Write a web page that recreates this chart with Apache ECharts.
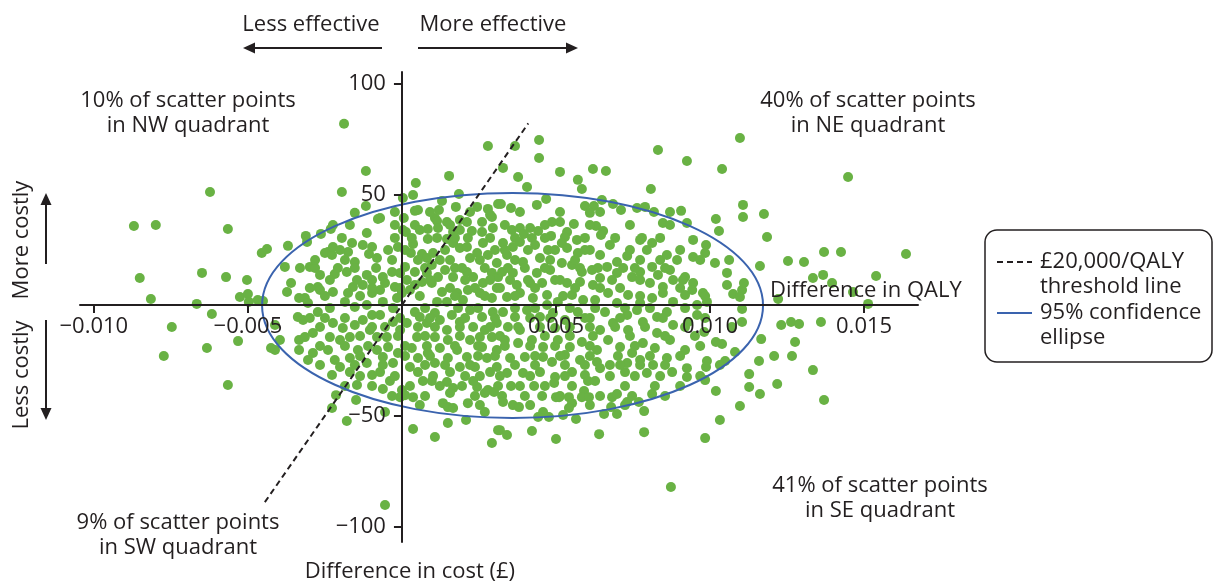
<!DOCTYPE html>
<html><head><meta charset="utf-8">
<script src="https://cdn.jsdelivr.net/npm/echarts@6/dist/echarts.min.js"></script>
<style>html,body{margin:0;padding:0;background:#fff}#chart{width:1216px;height:586px}</style>
</head><body><div id="chart"></div>
<script>
// ---------- data ----------
const xTickValues = [-0.010, -0.005, 0.005, 0.010, 0.015];
const xTickLabels = ['\u22120.010', '\u22120.005', '0.005', '0.010', '0.015'];
const yTickValues = [-100, -50, 50, 100];
const yTickLabels = ['\u2212100', '\u221250', '50', '100'];
const xRange = [-0.01045, 0.01675];
const yRange = [-107, 105.2];
const xAxisName = 'Difference in QALY';
const yAxisName = 'Difference in cost (\u00a3)';
const thresholdName = '\u00a320,000/QALY\nthreshold line';
const ellipseName = '95% confidence\nellipse';
// threshold line: cost = 20,000 x QALY, end points
const thresholdLine = [[-0.00445, -89], [0.0041, 82]];
// ellipse: centre QALY, centre cost, semi-axis QALY, semi-axis cost
const confidenceEllipse = [[0.00359, -0.2, 0.00813, 50.8]];
const quadrantNotes = ['10% of scatter points\nin NW quadrant', '40% of scatter points\nin NE quadrant',
  '41% of scatter points\nin SE quadrant', '9% of scatter points\nin SW quadrant'];
const effectLabels = ['Less effective', 'More effective'];
const costLabels = ['More costly', 'Less costly'];
// bootstrap scatter points [QALY difference, cost difference] - distinct points
const scatterPoints = [
[-0.00623,51.0],[-0.00870,35.7],[-0.00799,36.1],[-0.00565,34.3],
[-0.00188,81.8],[0.00279,71.8],[-0.00117,60.5],[0.00153,58.3],[0.00045,55.1],[-0.00195,51.0],[0.00003,48.3],[0.00036,49.7],[0.00185,50.1],[0.00130,47.0],[0.00175,44.3],[0.00244,44.3],[0.00279,43.4],[0.00312,45.6],[-0.00153,41.6],[-0.00117,44.7],[-0.00071,39.3],[-0.00078,38.8],[-0.00023,42.0],[0.00042,42.5],[0.00052,42.9],[0.00006,39.3],[0.00120,42.9],[0.00107,39.3],[0.00114,37.9],[0.00146,37.5],[0.00188,38.4],[0.00211,37.5],[0.00260,37.5],[0.00286,40.7],[0.00292,39.7],[0.00295,34.8],[0.00042,36.1],[0.00058,33.9],[0.00084,34.3],[0.00117,34.8],[0.00166,33.0],[0.00188,33.9],[0.00227,33.4],[0.00260,33.0],[-0.00224,36.1],[-0.00231,34.3],[-0.00263,32.1],[-0.00312,31.2],[-0.00114,32.5],[0.00003,33.9],[0.00013,33.0],[-0.00195,30.3],[0.00084,29.8],[0.00146,29.8],[0.00214,30.3],
[0.00367,71.8],[0.00445,74.5],[0.00445,66.4],[0.00328,61.9],[0.00377,57.8],[0.00513,60.1],[0.00620,61.4],[0.00662,60.5],[0.00831,70.0],[0.00925,65.0],[0.00406,53.3],[0.00571,56.5],[0.00584,52.4],[0.00808,52.4],[0.00468,47.9],[0.00438,45.2],[0.00354,43.8],[0.00321,45.6],[0.00649,47.4],[0.00685,45.6],[0.00594,44.7],[0.00623,44.7],[0.00610,41.6],[0.00711,42.9],[0.00763,43.8],[0.00789,44.3],[0.00818,42.0],[0.00906,42.5],[0.00847,37.0],[0.00925,37.0],[0.00487,37.5],[0.00513,37.5],[0.00558,36.6],[0.00630,35.7],[0.00653,33.4],[0.00646,31.6],[0.00536,33.0],[0.00529,30.7],[0.00484,31.2],[0.00568,29.4],[0.00357,33.9],[0.00383,34.8],[0.00416,34.8],[0.00442,33.4],[0.00396,32.1],[0.00367,30.3],[0.00422,30.3],[0.00779,30.3],[0.00945,29.4],
[0.01097,75.4],[0.01039,61.4],[0.01448,57.8],[0.01107,45.2],[0.01107,39.7],[0.01175,41.1],[0.01019,38.8],[0.01029,33.4],[0.01185,30.7],
[-0.00851,12.2],[-0.00815,2.7],[-0.00649,14.5],[-0.00571,12.6],[-0.00503,11.3],[-0.00666,0.5],[-0.00617,-4.1],[-0.00747,-9.9],[-0.00633,-19.4],[-0.00773,-23.0],[-0.00532,-16.3],[-0.00526,3.6],[-0.00500,5.0],[-0.00497,1.4],[-0.00468,2.3],[-0.00451,1.8],[-0.00455,23.5],[-0.00438,25.3],[-0.00370,26.7],[-0.00380,17.2],[-0.00360,9.9],[-0.00373,5.9],[-0.00334,3.2],[-0.00338,-5.4],[-0.00412,-9.0],[-0.00396,-15.8],[-0.00425,-19.4],[-0.00412,-20.3],[-0.00334,-15.8],[-0.00334,-20.3],
[-0.00308,28.5],[-0.00240,23.9],[-0.00250,23.5],[-0.00227,22.6],[-0.00224,26.2],[-0.00162,28.0],[-0.00175,23.9],[-0.00153,19.4],[-0.00127,27.1],[-0.00097,26.2],[-0.00107,23.0],[-0.00081,21.2],[-0.00013,26.2],[0.00036,27.6],[0.00029,23.5],[0.00065,23.0],[0.00081,21.2],[0.00101,23.5],[0.00123,20.3],[0.00097,18.1],[0.00166,28.0],[0.00188,25.7],[0.00211,26.2],[0.00221,21.2],[0.00244,23.5],[0.00263,28.0],[0.00279,22.6],[0.00302,24.8],[0.00308,19.0],
[-0.00299,17.2],[-0.00282,16.7],[-0.00266,13.6],[-0.00218,14.0],[-0.00179,14.9],[-0.00153,16.7],[-0.00114,13.6],[-0.00097,11.3],[-0.00062,12.6],[-0.00032,14.9],[-0.00006,14.5],[0.00010,17.2],[0.00042,14.9],[0.00081,14.5],[0.00117,12.6],[0.00140,15.8],[0.00172,16.7],[0.00166,12.6],[0.00211,14.9],[0.00231,12.6],[0.00269,16.7],[0.00292,14.5],[0.00312,12.6],
[-0.00315,3.2],[-0.00273,8.1],[-0.00266,6.8],[-0.00224,5.9],[-0.00185,1.4],[-0.00175,5.4],[-0.00159,8.1],[-0.00127,9.0],[-0.00097,5.4],[-0.00071,6.8],[-0.00055,9.9],[-0.00023,8.1],[-0.00006,7.7],[0.00000,5.4],[-0.00016,3.2],[0.00026,6.8],[0.00042,9.0],[0.00065,10.4],[0.00097,9.9],[0.00130,5.9],[0.00146,1.4],[0.00114,1.4],[0.00179,5.4],[0.00198,2.3],[0.00214,6.8],[0.00253,5.4],[0.00263,9.9],[0.00292,3.2],[0.00308,7.7],[-0.00305,0.9],[-0.00153,-0.9],[-0.00114,0],[-0.00062,1.4],
[-0.00273,-3.2],[-0.00250,-5.9],[-0.00224,-8.1],[-0.00192,-10.4],[-0.00153,-9.0],[-0.00127,-6.8],[-0.00097,-4.5],[-0.00071,-4.5],[-0.00055,-9.9],[-0.00029,-7.7],[-0.00006,-11.3],[0.00016,-8.1],[0.00042,-3.2],[0.00058,-5.4],[0.00081,-8.1],[0.00107,-3.6],[0.00123,-6.8],[0.00146,-11.3],[0.00162,-4.5],[0.00188,-7.7],[0.00221,-2.3],[0.00231,-9.9],[0.00260,-5.4],[0.00269,-11.3],[0.00295,-3.2],[0.00308,-8.1],[-0.00321,-6.8],[-0.00315,-14.5],[-0.00289,-12.6],[-0.00234,-14.5],[-0.00201,-15.8],[-0.00169,-14.5],[-0.00104,-11.3],[-0.00081,-14.5],
[-0.00289,-21.7],[-0.00305,-24.8],[-0.00240,-20.3],[-0.00218,-24.8],[-0.00169,-23.9],[-0.00201,-28.0],[-0.00143,-20.3],[-0.00114,-26.2],[-0.00081,-20.3],[-0.00062,-23.5],[-0.00045,-19.0],[-0.00029,-26.2],[-0.00013,-21.7],[-0.00071,-30.3],[-0.00097,-31.6],[-0.00169,-30.3],[-0.00227,-31.6],[0.00032,-19.4],[0.00052,-23.9],[0.00026,-28.0],[0.00052,-30.3],[0.00084,-21.7],[0.00107,-26.2],[0.00123,-19.4],[0.00149,-23.9],[0.00156,-30.3],[0.00188,-28.0],[0.00179,-20.3],[0.00211,-23.5],[0.00221,-15.8],[0.00237,-28.0],[0.00260,-19.0],[0.00276,-23.9],[0.00286,-30.3],[0.00308,-20.3],[0.00308,-28.0],[-0.00049,-14.5],[0.00049,-14.5],[0.00107,-14.5],[0.00149,-15.8],[0.00253,-14.5],[0.00292,-14.5],
[0.00328,28.0],[0.00360,26.2],[0.00383,28.5],[0.00432,27.1],[0.00474,24.8],[0.00519,28.0],[0.00536,25.7],[0.00571,23.5],[0.00610,24.8],[0.00643,22.6],[0.00675,27.1],[0.00698,19.4],[0.00731,22.1],[0.00773,29.4],[0.00795,24.8],[0.00812,28.0],[0.00838,20.3],[0.00860,22.6],[0.00893,20.3],[0.00945,21.7],[0.00341,22.6],[0.00393,19.4],[0.00448,21.2],
[0.00325,14.9],[0.00360,14.5],[0.00399,16.7],[0.00438,14.5],[0.00481,15.8],[0.00519,19.0],[0.00552,18.1],[0.00584,14.9],[0.00617,15.8],[0.00643,12.2],[0.00666,17.2],[0.00698,14.5],[0.00718,16.7],[0.00747,12.6],[0.00773,14.9],[0.00812,17.2],[0.00831,13.6],[0.00870,15.8],[0.00880,11.3],[0.00919,12.6],[0.00945,9.9],[0.00373,9.0],[0.00416,9.9],[0.00455,9.9],[0.00497,11.3],[0.00536,9.9],[0.00578,10.4],[0.00620,9.0],[0.00805,9.9],[0.00847,8.1],
[0.00341,3.6],[0.00383,5.4],[0.00425,3.2],[0.00471,4.5],[0.00506,1.4],[0.00552,4.5],[0.00588,2.3],[0.00627,2.3],[0.00669,5.4],[0.00698,0.9],[0.00734,4.5],[0.00773,0.9],[0.00812,3.2],[0.00847,5.4],[0.00880,1.4],[0.00919,4.5],[0.00942,6.8],[0.00958,0],[0.00471,0],
[0.00328,-3.2],[0.00367,-5.4],[0.00406,-2.3],[0.00448,-5.4],[0.00490,-3.6],[0.00529,-6.8],[0.00571,-3.2],[0.00610,-5.9],[0.00659,-3.2],[0.00685,-8.1],[0.00731,-4.5],[0.00763,-2.3],[0.00782,-7.7],[0.00828,-5.4],[0.00860,-3.2],[0.00880,-9.0],[0.00929,-7.7],[0.00958,-4.5],[0.00344,-9.9],[0.00383,-11.3],[0.00497,-10.4],[0.00643,-11.3],[0.00734,-11.3],[0.00828,-12.6],
[0.00334,-15.8],[0.00377,-17.2],[0.00422,-15.8],[0.00458,-19.0],[0.00506,-15.8],[0.00545,-19.0],[0.00584,-16.7],[0.00633,-20.3],[0.00669,-15.8],[0.00708,-19.0],[0.00747,-21.7],[0.00782,-17.2],[0.00821,-19.4],[0.00870,-15.8],[0.00919,-20.3],[0.00351,-23.9],[0.00399,-23.5],[0.00458,-23.5],[0.00487,-25.7],[0.00529,-22.6],[0.00578,-24.8],[0.00633,-25.7],[0.00675,-27.1],[0.00731,-26.2],[0.00773,-24.8],[0.00815,-27.1],[0.00860,-23.9],[0.00925,-28.5],[0.00341,-30.7],[0.00393,-30.7],[0.00448,-30.3],[0.00497,-32.5],[0.00552,-30.3],[0.00594,-31.6],[0.00643,-28.5],[0.00724,-30.3],[0.00795,-30.7],[0.00877,-30.3],[0.00925,-32.5],
[0.00987,27.1],[0.00984,23.5],[0.01016,19.0],[0.01062,20.3],[0.01055,14.5],[0.01162,17.6],[0.01253,19.9],[0.01305,19.4],[0.01370,23.9],[0.01425,23.9],[0.01636,23.0],[0.01334,12.2],[0.01367,13.6],[0.01396,9.9],[0.01464,5.9],[0.01539,13.1],[0.01513,0.5],[0.01055,9.0],[0.01110,9.9],[0.01104,6.8],[0.01075,5.0],[0.01097,3.6],[0.00977,5.4],[0.00990,1.4],[0.01221,2.7],[0.01104,-1.8],[0.01104,-7.7],[0.01231,-9.0],[0.01263,-7.7],[0.01289,-8.6],[0.01360,-7.7],[0.01071,-9.9],[0.00981,-12.2],[0.01019,-16.7],[0.01039,-17.6],[0.01166,-15.4],[0.01276,-16.7],[0.01081,-21.2],[0.00990,-25.3],[0.01049,-25.3],[0.01032,-27.1],[0.01159,-25.3],[0.01208,-23.0],[0.01266,-23.0],[0.01334,-29.4],[0.01127,-31.2],[0.00987,-28.0],
[-0.00565,-36.1],
[-0.00146,-36.1],[-0.00214,-40.7],[-0.00149,-42.9],[-0.00227,-46.5],[-0.00179,-52.4],[-0.00062,-37.9],[-0.00039,-34.3],[-0.00055,-48.3],[0.00000,-38.4],[-0.00006,-41.6],[0.00010,-40.7],[0.00036,-41.6],[0.00036,-56.0],[0.00107,-59.6],[-0.00055,-90.3],[0.00146,-34.8],[0.00166,-37.5],[0.00156,-39.7],[0.00133,-44.3],[0.00149,-46.1],[0.00166,-46.5],[0.00149,-53.3],[0.00208,-51.9],[0.00214,-44.3],[0.00244,-37.0],[0.00269,-39.7],[0.00279,-38.4],[0.00299,-39.3],[0.00269,-48.3],[0.00312,-56.5],[0.00292,-62.3],[0.00068,-34.3],[0.00097,-34.3],[0.00231,-34.3],
[0.00354,-36.6],[0.00429,-36.6],[0.00494,-35.2],[0.00455,-41.1],[0.00500,-41.6],[0.00510,-41.6],[0.00542,-41.6],[0.00591,-38.8],[0.00584,-41.6],[0.00607,-41.6],[0.00552,-44.3],[0.00542,-46.5],[0.00458,-48.3],[0.00442,-50.6],[0.00477,-50.6],[0.00523,-49.7],[0.00565,-51.5],[0.00325,-41.1],[0.00328,-43.8],[0.00360,-45.2],[0.00380,-46.1],[0.00682,-41.6],[0.00698,-40.2],[0.00679,-46.1],[0.00731,-43.8],[0.00769,-43.8],[0.00812,-40.2],[0.00786,-47.9],[0.00698,-49.2],[0.00656,-49.2],[0.00318,-56.5],[0.00341,-58.7],[0.00422,-56.9],[0.00500,-60.5],[0.00640,-58.3],[0.00786,-57.4],[0.00873,-82.2],[0.00604,-34.3],[0.00627,-34.3],
[0.00984,-33.9],[0.01019,-38.8],[0.01127,-37.0],[0.01162,-40.2],[0.01218,-35.7],[0.01370,-42.9],[0.01097,-45.6],[0.01032,-51.9],[0.00984,-60.1]
];
// points hidden inside the overlapping green mass of the dense core
const scatterPointsCore = [
[-0.00023,30.3],[0.00032,30.3],[0.00114,30.3],[0.00172,30.3],[0.00286,30.3],[0.00464,30.3],[0.00594,30.3],[0.00692,30.3],[0.00838,30.3],
[-0.00201,24.8],[-0.00045,24.8],[0.00010,24.8],[0.00140,24.8],[0.00334,24.8],[0.00409,24.8],[0.00497,24.8],[0.00594,24.8],[0.00740,24.8],[0.00903,24.8],
[-0.00282,20.3],[-0.00185,20.3],[-0.00032,20.3],[0.00052,20.3],[0.00156,20.3],[0.00253,20.3],[0.00367,20.3],[0.00481,20.3],[0.00562,20.3],[0.00773,20.3],[0.00968,20.3],
[-0.00331,16.7],[-0.00208,16.7],[-0.00084,16.7],[0.00075,16.7],[0.00195,16.7],[0.00344,16.7],[0.00464,16.7],[0.00578,16.7],[0.00636,16.7],[0.00756,16.7],[0.00854,16.7],
[-0.00234,11.3],[-0.00146,11.3],[0.00016,11.3],[0.00091,11.3],[0.00205,11.3],[0.00286,11.3],[0.00351,11.3],[0.00409,11.3],[0.00513,11.3],[0.00682,11.3],[0.00773,11.3],[0.00912,11.3],
[-0.00299,7.7],[-0.00097,7.7],[0.00156,7.7],[0.00237,7.7],[0.00318,7.7],[0.00432,7.7],[0.00562,7.7],[0.00643,7.7],[0.00708,7.7],[0.00903,7.7],
[-0.00250,4.1],[-0.00136,4.1],[0.00058,4.1],[0.00172,4.1],[0.00269,4.1],[0.00367,4.1],[0.00523,4.1],[0.00773,4.1],[0.00984,4.1],
[-0.00234,-1.4],[-0.00029,-1.4],[0.00075,-1.4],[0.00182,-1.4],[0.00247,-1.4],[0.00367,-1.4],[0.00432,-1.4],[0.00545,-1.4],[0.00627,-1.4],[0.00724,-1.4],[0.00805,-1.4],[0.00919,-1.4],
[-0.00299,-5.9],[-0.00185,-5.9],[-0.00006,-5.9],[0.00091,-5.9],[0.00205,-5.9],[0.00302,-5.9],[0.00416,-5.9],[0.00481,-5.9],[0.00594,-5.9],[0.00708,-5.9],[0.00847,-5.9],[0.00984,-5.9],
[-0.00266,-9.9],[-0.00097,-9.9],[0.00052,-9.9],[0.00107,-9.9],[0.00188,-9.9],[0.00286,-9.9],[0.00377,-9.9],[0.00448,-9.9],[0.00545,-9.9],[0.00610,-9.9],[0.00692,-9.9],[0.00789,-9.9],[0.00919,-9.9],
[-0.00136,-14.0],[-0.00013,-14.0],[0.00075,-14.0],[0.00188,-14.0],[0.00318,-14.0],[0.00464,-14.0],[0.00545,-14.0],[0.00620,-14.0],[0.00740,-14.0],[0.00854,-14.0],[0.00951,-14.0],
[-0.00266,-18.5],[-0.00185,-18.5],[-0.00110,-18.5],[0.00010,-18.5],[0.00081,-18.5],[0.00172,-18.5],[0.00247,-18.5],[0.00334,-18.5],[0.00416,-18.5],[0.00497,-18.5],[0.00610,-18.5],[0.00756,-18.5],[0.00968,-18.5],
[-0.00136,-23.0],[0.00010,-23.0],[0.00091,-23.0],[0.00247,-23.0],[0.00302,-23.0],[0.00432,-23.0],[0.00513,-23.0],[0.00610,-23.0],[0.00701,-23.0],[0.00805,-23.0],[0.00903,-23.0],
[-0.00266,-27.1],[-0.00153,-27.1],[-0.00062,-27.1],[0.00075,-27.1],[0.00140,-27.1],[0.00221,-27.1],[0.00367,-27.1],[0.00432,-27.1],[0.00529,-27.1],[0.00594,-27.1],[0.00708,-27.1],[0.00773,-27.1],[0.00854,-27.1],
[-0.00136,-32.1],[-0.00023,-32.1],[0.00101,-32.1],[0.00205,-32.1],[0.00253,-32.1],[0.00318,-32.1],[0.00416,-32.1],[0.00529,-32.1],[0.00675,-32.1],[0.00756,-32.1],[0.00838,-32.1],[0.00968,-32.1],
[-0.00185,-36.6],[-0.00097,-36.6],[0.00026,-36.6],[0.00123,-36.6],[0.00195,-36.6],[0.00312,-36.6],[0.00383,-36.6],[0.00464,-36.6],[0.00552,-36.6],[0.00724,-36.6],[0.00821,-36.6],[0.00903,-36.6],
[-0.00032,-41.1],[0.00075,-41.1],[0.00237,-41.1],[0.00399,-41.1],[0.00513,-41.1],[0.00643,-41.1],[0.00747,-41.1],[0.00854,-41.1],
[0.00058,-45.2],[0.00253,-45.2],[0.00416,-45.2],[0.00610,-45.2],[0.00724,-45.2],
[-0.00169,36.1],[-0.00023,36.1],[0.00156,36.1],[0.00334,36.1],[0.00464,36.1],[0.00610,36.1],[0.00740,36.1],[0.00870,36.1],
[0.00091,42.0],[0.00221,42.0],[0.00383,42.0],[0.00513,42.0],[0.00643,42.0],[0.00870,42.0]
];

// ---------- styling ----------
const INK = '#231f20';
const GREEN = '#69b244';
const BLUE = '#3a63ae';
const FONT = '"Open Sans", "Noto Sans", sans-serif';
const FS = 22;
const GRID = { left: 80, top: 72, width: 838, height: 470 };
// place the axes through the origin (line, ticks and labels together)
const xAxisOffset = -GRID.height * (0 - yRange[0]) / (yRange[1] - yRange[0]);
const yAxisOffset = -GRID.width * (0 - xRange[0]) / (xRange[1] - xRange[0]);

function lookup(values, labels) {
  return function (v) {
    const i = values.findIndex(t => Math.abs(t - v) < 1e-9);
    return i >= 0 ? labels[i] : '';
  };
}
function txt(text, x, y, align, extra) {
  return Object.assign({
    type: 'text', x: x, y: y, silent: true,
    style: { text: text, x: 0, y: 0, fill: INK, fontSize: FS, fontFamily: FONT,
      align: align || 'center', verticalAlign: 'middle', lineHeight: 25 }
  }, extra || {});
}
function line(x1, y1, x2, y2, stroke, dash) {
  return { type: 'line', silent: true, shape: { x1, y1, x2, y2 },
    style: { stroke: stroke, lineWidth: 2, lineDash: dash || null } };
}
function head(points) {
  return { type: 'polygon', silent: true, shape: { points: points }, style: { fill: INK } };
}

const chart = echarts.init(document.getElementById('chart'), null, { renderer: 'canvas' });
chart.setOption({
  animation: false,
  backgroundColor: '#ffffff',
  grid: Object.assign({ containLabel: false }, GRID),
  xAxis: {
    type: 'value', min: xRange[0], max: xRange[1], position: 'bottom', offset: xAxisOffset, z: 10,
    splitLine: { show: false },
    axisLine: { onZero: false, lineStyle: { color: INK, width: 2 } },
    axisTick: { customValues: xTickValues, length: 8, lineStyle: { color: INK, width: 2 } },
    axisLabel: { customValues: xTickValues, margin: 11, color: INK, fontSize: FS, fontFamily: FONT,
      formatter: lookup(xTickValues, xTickLabels) },
    name: xAxisName, nameLocation: 'end', nameGap: -148,
    nameTextStyle: { color: INK, fontSize: FS, fontFamily: FONT, align: 'left', verticalAlign: 'bottom', padding: [0, 0, 3, 0] }
  },
  yAxis: {
    type: 'value', min: yRange[0], max: yRange[1], position: 'left', offset: yAxisOffset, z: 10,
    splitLine: { show: false },
    axisLine: { onZero: false, lineStyle: { color: INK, width: 2 } },
    axisTick: { customValues: yTickValues, length: 8, lineStyle: { color: INK, width: 2 } },
    axisLabel: { customValues: yTickValues, margin: 16, color: INK, fontSize: FS, fontFamily: FONT,
      formatter: lookup(yTickValues, yTickLabels) },
    name: yAxisName, nameLocation: 'start', nameGap: 19,
    nameTextStyle: { color: INK, fontSize: FS, fontFamily: FONT, padding: [0, 0, 0, 16] }
  },
  series: [
    { type: 'scatter', name: 'Bootstrap replicates', data: scatterPoints.concat(scatterPointsCore),
      symbol: 'circle', symbolSize: 10, large: false,
      itemStyle: { color: GREEN, opacity: 1 }, z: 2, silent: true },
    { type: 'custom', name: ellipseName, data: confidenceEllipse, z: 5, silent: true,
      encode: { x: 0, y: 1 },
      renderItem: function (params, api) {
        const c = api.coord([api.value(0), api.value(1)]);
        const s = api.size([api.value(2), api.value(3)]);
        return { type: 'ellipse', shape: { cx: c[0], cy: c[1], rx: s[0], ry: s[1] },
          style: { fill: 'none', stroke: BLUE, lineWidth: 2 } };
      } },
    { type: 'line', name: thresholdName, data: thresholdLine, symbol: 'none', z: 6, silent: true,
      lineStyle: { color: INK, width: 2, type: [6, 4] } }
  ],
  graphic: [
    txt(effectLabels[0], 311, 25), txt(effectLabels[1], 493, 25),
    line(382, 48, 252, 48, INK), head([[243, 48], [255, 42.5], [255, 53.5]]),
    line(418, 48, 568, 48, INK), head([[578, 48], [566, 42.5], [566, 53.5]]),
    txt(costLabels[0], 22, 240, 'center', { rotation: Math.PI / 2 }),
    txt(costLabels[1], 22, 375, 'center', { rotation: Math.PI / 2 }),
    line(46, 264, 46, 203, INK), head([[46, 193], [40.5, 205], [51.5, 205]]),
    line(46, 320, 46, 409, INK), head([[46, 420], [40.5, 408], [51.5, 408]]),
    txt(quadrantNotes[0], 188, 113.5), txt(quadrantNotes[1], 868, 113),
    txt(quadrantNotes[2], 880, 498.5), txt(quadrantNotes[3], 178, 535),
    { type: 'rect', silent: true, shape: { x: 985, y: 230, width: 227, height: 132, r: 12 },
      style: { fill: '#ffffff', stroke: INK, lineWidth: 1.5 } },
    line(997, 262, 1032, 262, INK, [6, 4]),
    txt(thresholdName, 1040, 274.5, 'left'),
    line(997, 313, 1032, 313, BLUE),
    txt(ellipseName, 1040, 325.5, 'left')
  ]
});
</script>
</body></html>
